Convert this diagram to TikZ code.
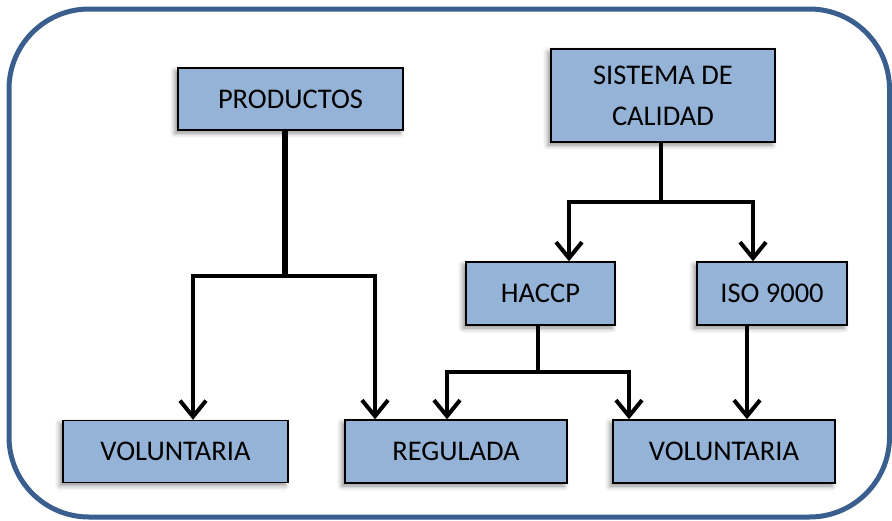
\documentclass[tikz,border=0pt]{standalone}
\usepackage{fontspec}
\setmainfont{Carlito}
\usetikzlibrary{arrows.meta,shadows.blur}
\definecolor{boxfill}{HTML}{95B3D7}
\definecolor{frameblue}{HTML}{3A5F8F}
\begin{document}
\begin{tikzpicture}[x=1pt,y=-1pt,
  box/.style={draw=black,line width=1.4pt,fill=boxfill,inner sep=0pt,
    font=\fontsize{28.5}{41}\selectfont,align=center,
    blur shadow={shadow xshift=-3pt,shadow yshift=-3pt,shadow blur radius=5pt,shadow opacity=45}},
  conn/.style={line width=4pt,line join=miter},
  arr/.style={conn,-{Straight Barb[length=16pt,width=26pt,line width=4pt]}}]
\useasboundingbox (0,0) rectangle (892,520);
\draw[frameblue,line width=5pt,rounded corners=80pt] (9,9) rectangle (889.5,517);
% boxes
\node[box,minimum width=225pt,minimum height=62pt] (prod) at (290.5,99) {PRODUCTOS};
\node[box,minimum width=224pt,minimum height=93pt] (sis) at (663,95.5) {SISTEMA DE\\CALIDAD};
\node[box,minimum width=149pt,minimum height=63pt] (haccp) at (540.5,293.5) {HACCP};
\node[box,minimum width=150pt,minimum height=63pt] (iso) at (772,293.5) {ISO 9000};
\node[box,minimum width=225pt,minimum height=62pt] (vol1) at (175.5,451.5) {VOLUNTARIA};
\node[box,minimum width=222pt,minimum height=63pt] (reg) at (456,451.5) {REGULADA};
\node[box,minimum width=222pt,minimum height=63pt] (vol2) at (724,451.5) {VOLUNTARIA};
% junction coordinates
\coordinate (jp) at (285,276);
\coordinate (js) at (661,202);
\coordinate (jh) at (538,372);
% PRODUCTOS
\draw[line width=6pt] (prod.south -| jp) -- (jp);
\draw[arr] (jp) -- (193,276) -- (193,276 |- vol1.north);
\draw[arr] (jp) -- (375,276) -- (375,276 |- reg.north);
% SISTEMA
\draw[conn] (sis.south -| js) -- (js);
\draw[arr] (js) -- (569,202) -- (569,202 |- haccp.north);
\draw[arr] (js) -- (753,202) -- (753,202 |- iso.north);
% HACCP
\draw[conn] (haccp.south -| jh) -- (jh);
\draw[arr] (jh) -- (447,372) -- (447,372 |- reg.north);
\draw[arr] (jh) -- (629,372) -- (629,372 |- vol2.north);
% ISO
\draw[arr] (iso.south -| 747,0) -- (747,0 |- vol2.north);
\end{tikzpicture}
\end{document}
